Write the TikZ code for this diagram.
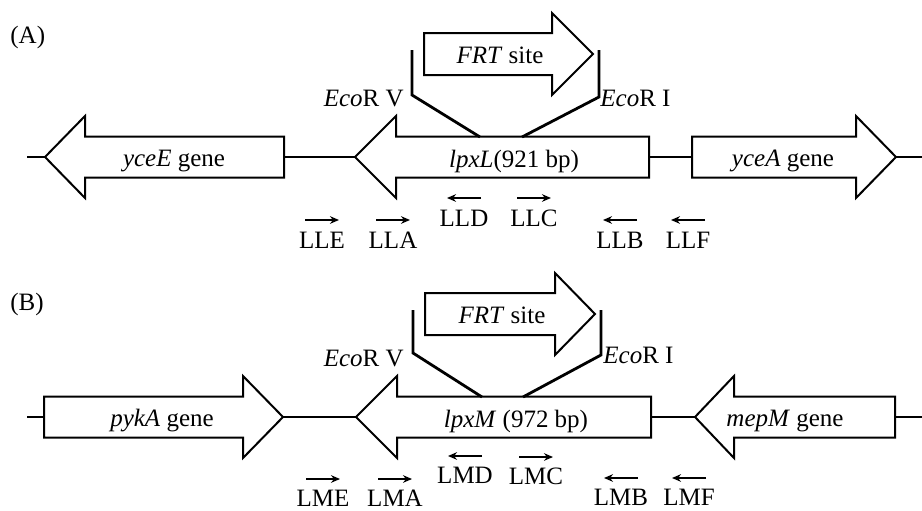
\documentclass[tikz,border=0pt]{standalone}
\usepackage{fontspec}
\setmainfont{Liberation Serif}
\usetikzlibrary{arrows.meta}

\newcommand{\rowB}{260}

\tikzset{
  gene/.style={line width=1pt},
  bracket/.style={line width=1.4pt},
  primer/.style={line width=0.65pt, -{Stealth[length=4.5pt,width=3.8pt]}},
  lbl/.style={inner sep=0pt, anchor=base, font=\fontsize{12.5}{14}\selectfont},
}

\begin{document}
\begin{tikzpicture}[x=0.5pt, y=-0.5pt]
  \useasboundingbox (0,0) rectangle (922,510);

  % (A) lpxL region

  %% genes
  \draw[gene] (45,157) coordinate (yceE-tip) -- (85,116) -- (85,136.5) -- (284,136.5)
              -- (284,177.5) -- (85,177.5) -- (85,198) -- cycle;
  \coordinate (yceE-end) at (284,157);
  \draw[gene] (355,157) coordinate (lpxL-tip) -- (396,116) -- (396,136.5) -- (649,136.5)
              -- (649,177.5) -- (396,177.5) -- (396,198) -- cycle;
  \coordinate (lpxL-end) at (649,157);
  \draw[gene] (896,157) coordinate (yceA-tip) -- (856,116) -- (856,136.5) -- (692,136.5)
              -- (692,177.5) -- (856,177.5) -- (856,198) -- cycle;
  \coordinate (yceA-end) at (692,157);
  \coordinate (A-left) at (27,157);
  \coordinate (A-right) at (922,157);
  \draw[gene] (A-left) -- (yceE-tip);
  \draw[gene] (yceE-end) -- (lpxL-tip);
  \draw[gene] (lpxL-end) -- (yceA-end);
  \draw[gene] (yceA-tip) -- (A-right);

  \node[lbl] (yceE) at (174,166) {\textit{yceE} gene};
  \node[lbl] (lpxL) at (514,167) {\textit{lpxL}(921 bp)};
  \node[lbl] (yceA) at (783,166) {\textit{yceA} gene};

  %% FRT insert
  \draw[gene] (593,54) -- (552,13) -- (552,33) -- (424,33) -- (424,75)
              -- (552,75) -- (552,95) -- cycle;
  \node[lbl] (frtA) at (500,63) {\textit{FRT} site};
  \draw[bracket] (412,50) -- (412,95) -- (480,137);
  \draw[bracket] (599,50) -- (599,97) -- (522,137);
  \node[lbl, anchor=base east] (ecoRVA) at (404,106) {\textit{Eco}R V};
  \node[lbl, anchor=base west] (ecoRIA) at (600,106) {\textit{Eco}R I};

  %% primers
  \node[lbl, anchor=base west] (panelA) at (10,43) {(A)};
  \foreach \nm/\x/\y/\d in {LLE/322/220/1, LLA/393/220/1, LLD/464/198/-1,
                            LLC/534/198/1, LLB/620/220/-1, LLF/688/220/-1}{
    \coordinate (\nm-s) at (\x-17*\d,\y);
    \coordinate (\nm-e) at (\x+17*\d,\y);
    \draw[primer] (\nm-s) -- (\nm-e);
    \node[lbl] (\nm) at (\x,\y+28) {\nm};}

  %%%%%%%%%%%%%%%
  % (B) lpxM region

  %% genes
  \draw[gene] (283,157+\rowB) coordinate (pykA-tip) -- (243,116+\rowB) -- (243,136.5+\rowB)
              -- (44,136.5+\rowB) -- (44,177.5+\rowB) -- (243,177.5+\rowB) -- (243,198+\rowB) -- cycle;
  \coordinate (pykA-end) at (44,157+\rowB);
  \draw[gene] (356,157+\rowB) coordinate (lpxM-tip) -- (397,116+\rowB) -- (397,136.5+\rowB)
              -- (651,136.5+\rowB) -- (651,177.5+\rowB) -- (397,177.5+\rowB) -- (397,198+\rowB) -- cycle;
  \coordinate (lpxM-end) at (651,157+\rowB);
  \draw[gene] (695,157+\rowB) coordinate (mepM-tip) -- (734,116+\rowB) -- (734,136.5+\rowB)
              -- (895,136.5+\rowB) -- (895,177.5+\rowB) -- (734,177.5+\rowB) -- (734,198+\rowB) -- cycle;
  \coordinate (mepM-end) at (895,157+\rowB);
  \coordinate (B-left) at (27,157+\rowB);
  \coordinate (B-right) at (922,157+\rowB);
  \draw[gene] (B-left) -- (pykA-end);
  \draw[gene] (pykA-tip) -- (lpxM-tip);
  \draw[gene] (lpxM-end) -- (mepM-tip);
  \draw[gene] (mepM-end) -- (B-right);

  \node[lbl] (pykA) at (162,166+\rowB) {\textit{pykA} gene};
  \node[lbl] (lpxM) at (516,167+\rowB) {\textit{lpxM} (972 bp)};
  \node[lbl] (mepM) at (785,166+\rowB) {\textit{mepM} gene};

  %% FRT insert
  \draw[gene] (595,54+\rowB) -- (555,13+\rowB) -- (555,33+\rowB) -- (425,33+\rowB)
              -- (425,75+\rowB) -- (555,75+\rowB) -- (555,95+\rowB) -- cycle;
  \node[lbl] (frtB) at (502,63+\rowB) {\textit{FRT} site};
  \draw[bracket] (413,50+\rowB) -- (413,93+\rowB) -- (482,137+\rowB);
  \draw[bracket] (601,50+\rowB) -- (601,95+\rowB) -- (523,137+\rowB);
  \node[lbl, anchor=base east] (ecoRVB) at (404,106+\rowB) {\textit{Eco}R V};
  \node[lbl, anchor=base west] (ecoRIB) at (603,103+\rowB) {\textit{Eco}R I};

  %% primers
  \node[lbl, anchor=base west] (panelB) at (10,50+\rowB) {(B)};
  \foreach \nm/\x/\y/\d in {LME/323/479/1, LMA/395/479/1, LMD/465/456/-1,
                            LMC/536/457/1, LMB/621/478/-1, LMF/689/478/-1}{
    \coordinate (\nm-s) at (\x-17*\d,\y);
    \coordinate (\nm-e) at (\x+17*\d,\y);
    \draw[primer] (\nm-s) -- (\nm-e);
    \node[lbl] (\nm) at (\x,\y+27) {\nm};}

\end{tikzpicture}
\end{document}
